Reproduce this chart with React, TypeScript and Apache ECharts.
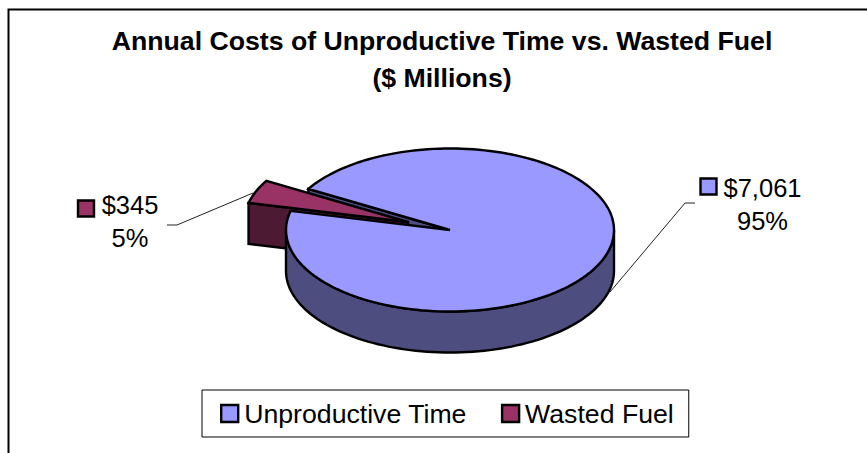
import React, { useEffect, useRef } from "react";
import * as echarts from "echarts";

const categories = ["Unproductive Time", "Wasted Fuel"];
const costs = [7061, 345];
const topColors = ["#9999FF", "#993366"];
const sideColors = ["#4D4D80", "#4D1A33"];
const titleText = "Annual Costs of Unproductive Time vs. Wasted Fuel\n($ Millions)";

const FONT = '"Liberation Sans", Arial, sans-serif';
const CX = 450;
const CY = 230;
const RX = 164;
const RY = 81.5;
const DEPTH = 41;
const START_ANGLE = 210.3;
const EXPLODE = [-42, -8];
const LABEL_POS = [[762.5, 204.5], [130, 221.5]];
const ICON_POS = [[700.5, 178.5], [78, 200.5]];
const LEADERS = [
  [[610, 292], [685, 203], [695, 203]],
  [[253, 193], [177, 225], [167, 225]],
];

const total = costs.reduce((a, b) => a + b, 0);

function pt(deg: number, ox = 0, oy = 0): [number, number] {
  const r = (deg * Math.PI) / 180;
  return [CX + ox + RX * Math.cos(r), CY + oy + RY * Math.sin(r)];
}
function arc(from: number, to: number, ox = 0, oy = 0) {
  const n = Math.max(2, Math.ceil(Math.abs(to - from) / 2));
  const out: [number, number][] = [];
  for (let i = 0; i <= n; i++) out.push(pt(from + ((to - from) * i) / n, ox, oy));
  return out;
}
function d(points: number[][]) {
  return "M" + points.map((p) => p[0].toFixed(2) + " " + p[1].toFixed(2)).join("L") + "Z";
}
function poly(points: number[][], fill: string, z2: number) {
  return {
    type: "path",
    z2,
    shape: { pathData: d(points) },
    style: { fill, stroke: "#000", lineWidth: 2.4, lineJoin: "miter" },
  };
}
function labelParts(i: number, z2: number) {
  const value = costs[i];
  const pct = Math.round((value / total) * 100);
  return [
    {
      type: "polyline",
      z2,
      shape: { points: LEADERS[i] },
      style: { fill: "none", stroke: "#222", lineWidth: 1 },
    },
    {
      type: "rect",
      z2,
      shape: { x: ICON_POS[i][0], y: ICON_POS[i][1], width: 16, height: 16 },
      style: { fill: topColors[i], stroke: "#000", lineWidth: 2.4 },
    },
    {
      type: "text",
      z2,
      style: {
        text: "$" + value.toLocaleString("en-US") + "\n" + pct + "%",
        x: LABEL_POS[i][0],
        y: LABEL_POS[i][1],
        align: "center",
        verticalAlign: "middle",
        font: "25.5px " + FONT,
        lineHeight: 33,
        fill: "#000",
      },
    },
  ];
}

function renderBig(_p: any, api: any) {
  const sweep = (api.value(0) / total) * 360;
  const end = START_ANGLE + sweep;
  const apex: [number, number] = [CX, CY];
  const s = pt(START_ANGLE);
  const wall = [apex, s, [s[0], s[1] + DEPTH], [CX, CY + DEPTH]];
  const side = [...arc(0, 180), ...arc(180, 0, 0, DEPTH)];
  const top = [apex, ...arc(START_ANGLE, end)];
  return {
    type: "group",
    children: [
      poly(wall, sideColors[0], 1),
      poly(side, sideColors[0], 5),
      poly(top, topColors[0], 6),
      ...labelParts(0, 7),
    ],
  };
}

function renderSmall(_p: any, api: any) {
  const sweep = (api.value(0) / total) * 360;
  const start = START_ANGLE + (costs[0] / total) * 360;
  const [ox, oy] = EXPLODE;
  const apex: [number, number] = [CX + ox, CY + oy];
  const s = pt(start, ox, oy);
  const wall = [apex, s, [s[0], s[1] + DEPTH], [apex[0], apex[1] + DEPTH]];
  const top = [apex, ...arc(start, start + sweep, ox, oy)];
  return {
    type: "group",
    children: [
      poly(wall, sideColors[1], 2),
      poly(top, topColors[1], 3),
      ...labelParts(1, 7),
    ],
  };
}

export default function App() {
  const ref = useRef<HTMLDivElement>(null);
  useEffect(() => {
    const chart = echarts.init(ref.current!, null, { renderer: "svg" });
    chart.setOption({
      animation: false,
      backgroundColor: "#fff",
      title: {
        text: titleText,
        left: 437,
        textAlign: "center",
        top: 17,
        textStyle: {
          fontFamily: FONT,
          fontSize: 26.67,
          fontWeight: "bold",
          color: "#000",
          lineHeight: 37,
        },
      },
      legend: {
        left: 202,
        top: 390,
        padding: [10, 15, 10, 18],
        borderColor: "#000",
        borderWidth: 1,
        itemWidth: 17,
        itemHeight: 17,
        itemGap: 34,
        selectedMode: false,
        icon: "rect",
        data: categories.map((name, i) => ({
          name,
          itemStyle: { color: topColors[i], borderColor: "#000", borderWidth: 2.4 },
        })),
        textStyle: { fontFamily: FONT, fontSize: 26.67, color: "#000", padding: [0, 0, 0, 1] },
      },
      graphic: [
        {
          type: "rect",
          silent: true,
          shape: { x: 8.5, y: 9.5, width: 900, height: 500 },
          style: { fill: "none", stroke: "#000", lineWidth: 2 },
        },
      ],
      series: [
        {
          type: "custom",
          name: categories[0],
          coordinateSystem: "none",
          silent: true,
          itemStyle: { color: topColors[0] },
          data: [[costs[0]]],
          renderItem: renderBig,
        },
        {
          type: "custom",
          name: categories[1],
          coordinateSystem: "none",
          silent: true,
          itemStyle: { color: topColors[1] },
          data: [[costs[1]]],
          renderItem: renderSmall,
        },
      ],
    });
    return () => chart.dispose();
  }, []);
  return (
    <div
      ref={ref}
      style={{ position: "absolute", left: 0, top: 0, width: 867, height: 453 }}
    />
  );
}
